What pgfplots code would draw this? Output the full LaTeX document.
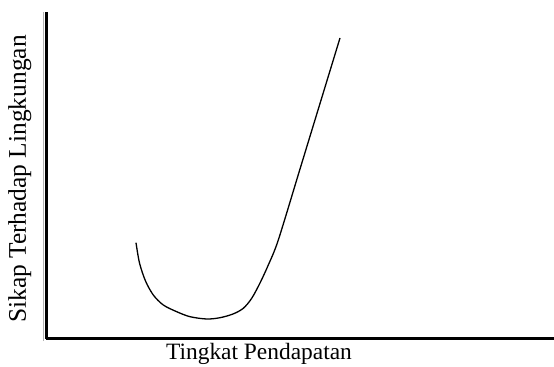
\documentclass[border=0pt]{standalone}
\usepackage{fontspec}
\setmainfont{Liberation Serif}
\usepackage{pgfplots}
\pgfplotsset{compat=1.18}

\begin{document}
\begin{tikzpicture}
% fix the page to the reference's 554 x 367 frame
\path[use as bounding box] (-46.5bp,-28.5bp) rectangle (507.5bp,338.5bp);
\begin{axis}[
    scale only axis,
    width=507.5bp, height=326.5bp,
    xmin=46.5, xmax=554,
    ymin=28.5, ymax=355,
    axis x line=bottom,
    axis y line=left,
    axis line style={-, line width=2.4bp, black},
    xtick=\empty, ytick=\empty,
    clip=false,
    xlabel={Tingkat Pendapatan},
    ylabel={Sikap Terhadap Lingkungan},
    xlabel style={font=\fontsize{23.5}{26}\selectfont,
        at={(axis description cs:0.4187,-0.0628)}, anchor=base},
    ylabel style={font=\fontsize{25.5}{28}\selectfont,
        at={(axis description cs:-0.0404,0.4885)}, anchor=base},
]
    % thin grey edge beside the y axis
    \addplot[gray!60, line width=1.2bp] coordinates {(43.5,26) (43.5,355)};

    % U-shaped relation
    \addplot[black, line width=1.3bp, smooth, tension=0.5] coordinates {
        (136,124.3) (139.5,104) (145.5,86) (153.3,72) (163.3,62)
        (176.7,55.3) (190,50.3) (206.7,48) (220,49.3) (233,53)
        (243.3,58.7) (251.7,68.7) (260,84) (268.3,102) (278.3,127)
        (300,198) (320,263.5) (340,329)
    };
\end{axis}
\end{tikzpicture}
\end{document}
